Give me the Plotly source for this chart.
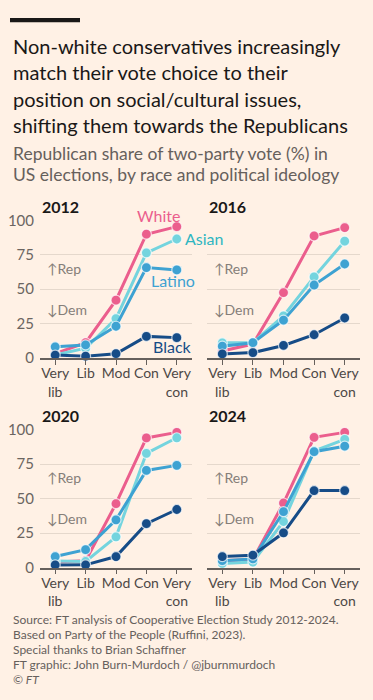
import plotly.graph_objects as go

# ---------------- data ----------------
categories = ["Very<br>lib", "Lib", "Mod", "Con", "Very<br>con"]
years = ["2012", "2016", "2020", "2024"]

white = [
    [3, 11, 42, 90, 95.5],
    [5, 10, 47.5, 88.7, 94.8],
    [4, 5, 46.3, 94, 98],
    [5, 6, 46.8, 94.4, 98],
]
asian = [
    [2, 7, 28.6, 76.4, 86.5],
    [10.9, 11, 30.5, 58.9, 84.9],
    [4.7, 4.4, 22.3, 82.8, 94.1],
    [3, 4, 33.4, 84.5, 93],
]
latino = [
    [8, 9.4, 23, 65.7, 64],
    [8.5, 11, 27.4, 53, 68.3],
    [8, 13, 34.6, 70.4, 74.1],
    [5, 6.3, 40.5, 84, 88],
]
black = [
    [2, 1.2, 3, 15.6, 14.7],
    [2.8, 3.8, 9, 16.8, 29],
    [1.9, 2, 8, 31.8, 42.1],
    [8, 9, 25.2, 55.8, 55.8],
]
y_ticks = [0, 25, 50, 75, 100]

title_lines = [
    "Non-white conservatives increasingly",
    "match their vote choice to their",
    "position on social/cultural issues,",
    "shifting them towards the Republicans",
]
subtitle_lines = [
    "Republican share of two-party vote (%) in",
    "US elections, by race and political ideology",
]
footer_lines = [
    "Source: FT analysis of Cooperative Election Study 2012-2024.",
    "Based on Party of the People (Ruffini, 2023).",
    "Special thanks to Brian Schaffner",
    "FT graphic: John Burn-Murdoch / @jburnmurdoch",
    "<i>© FT</i>",
]

# ---------------- style ----------------
W, H = 373, 700
BG = "#fff1e5"
FONT = "Lato"
C_WHITE = "#eb5e8d"
C_ASIAN = "#74d4de"
C_LATINO = "#3ea2d2"
C_BLACK = "#164c87"
GRID = "#e5d8cc"
AXIS = "#66605c"
TXT = "#4d4845"

series = [
    ("White", white, C_WHITE),
    ("Asian", asian, C_ASIAN),
    ("Latino", latino, C_LATINO),
    ("Black", black, C_BLACK),
]

def px_x(p):
    return p / W

def px_y(p):
    return 1 - p / H

x_domains = [[px_x(40), px_x(192)], [px_x(207), px_x(360)]]
y_domains = [[px_y(357), px_y(216)], [px_y(572.3), px_y(430.7)]]
year_pos = [(40, 202), (207, 202), (40, 416), (207, 416)]

fig = go.Figure()

for i, yr in enumerate(years):
    row, col = divmod(i, 2)
    ax = "" if i == 0 else str(i + 1)
    for name, data, color in series:
        fig.add_trace(go.Scatter(
            x=categories, y=data[i], mode="lines+markers", name=name,
            xaxis="x" + ax, yaxis="y" + ax,
            line=dict(color=color, width=3),
            marker=dict(size=10, color=color, line=dict(width=1.2, color="rgba(255,255,255,0.7)")),
            cliponaxis=False, showlegend=False, hoverinfo="skip",
        ))
    fig.layout["xaxis" + ax] = dict(
        domain=x_domains[col], anchor="y" + ax, type="category",
        categoryorder="array", categoryarray=categories,
        range=[-0.5, 4.5], showgrid=False, zeroline=False,
        showline=True, linecolor=AXIS, linewidth=1.5,
        ticks="outside", ticklen=5, tickcolor=AXIS, tickwidth=1.2, tickangle=0,
        tickfont=dict(family=FONT, size=14, color=TXT), fixedrange=True,
        ticklabelstandoff=-3,
    )
    fig.layout["yaxis" + ax] = dict(
        domain=y_domains[row], anchor="x" + ax, range=[0, 100],
        tickvals=y_ticks, showgrid=True, gridcolor=GRID, gridwidth=1,
        zeroline=False, showline=False, showticklabels=(col == 0),
        ticks="", tickfont=dict(family=FONT, size=15, color="#6b6561"),
        ticklabelstandoff=5, fixedrange=True,
    )
    # year title
    yx, yy = year_pos[i]
    fig.add_annotation(text="<b>%s</b>" % yr, xref="paper", yref="paper",
                       x=px_x(yx), y=px_y(yy), xanchor="left", yanchor="middle", showarrow=False,
                       font=dict(family=FONT, size=16, color="#1a1817"))
    # Rep / Dem hints
    fig.add_annotation(text="↑Rep", xref="x" + ax, yref="y" + ax, x=-0.35, y=65,
                       xanchor="left", yanchor="middle", showarrow=False,
                       font=dict(family=FONT, size=14, color="#857e79"))
    fig.add_annotation(text="↓Dem", xref="x" + ax, yref="y" + ax, x=-0.35, y=35.5,
                       xanchor="left", yanchor="middle", showarrow=False,
                       font=dict(family=FONT, size=14, color="#857e79"))

# series labels (2012 panel), pixel positions
labels = [
    ("White", C_WHITE, 158, 211, "center"),
    ("Asian", "#2fb6c1", 183, 235, "left"),
    ("Latino", C_LATINO, 173, 278, "center"),
    ("Black", C_BLACK, 172, 345, "center"),
]
for txt, color, lx, ly, anc in labels:
    fig.add_annotation(text=txt, xref="paper", yref="paper", x=px_x(lx), y=px_y(ly), xanchor=anc,
                       yanchor="middle", showarrow=False,
                       font=dict(family=FONT, size=16, color=color))

# title / subtitle / footer
for k, t in enumerate(title_lines):
    fig.add_annotation(text=t, xref="paper", yref="paper", x=px_x(11), y=px_y(37 + 27 * k),
                       xanchor="left", yanchor="middle", showarrow=False,
                       font=dict(family=FONT, size=20, color="#1a1817"))
for k, t in enumerate(subtitle_lines):
    fig.add_annotation(text=t, xref="paper", yref="paper", x=px_x(11), y=px_y(147 + 22 * k),
                       xanchor="left", yanchor="middle", showarrow=False,
                       font=dict(family=FONT, size=17.5, color="#66605c"))
for k, t in enumerate(footer_lines):
    fig.add_annotation(text=t, xref="paper", yref="paper", x=px_x(11), y=px_y(626 + 15.2 * k),
                       xanchor="left", yanchor="middle", showarrow=False,
                       font=dict(family=FONT, size=12, color="#66605c"))

fig.add_shape(type="rect", xref="paper", yref="paper", x0=px_x(10), x1=px_x(80),
              y0=px_y(12.7), y1=px_y(8.3), fillcolor="#1a1817", line=dict(width=0))

fig.update_layout(
    width=W, height=H, margin=dict(l=0, r=0, t=0, b=0),
    paper_bgcolor=BG, plot_bgcolor=BG, showlegend=False,
    font=dict(family=FONT),
)

fig.write_html("out.html", config={"displayModeBar": False},
               post_script="document.body.style.margin='0px';document.body.style.overflow='hidden';")
